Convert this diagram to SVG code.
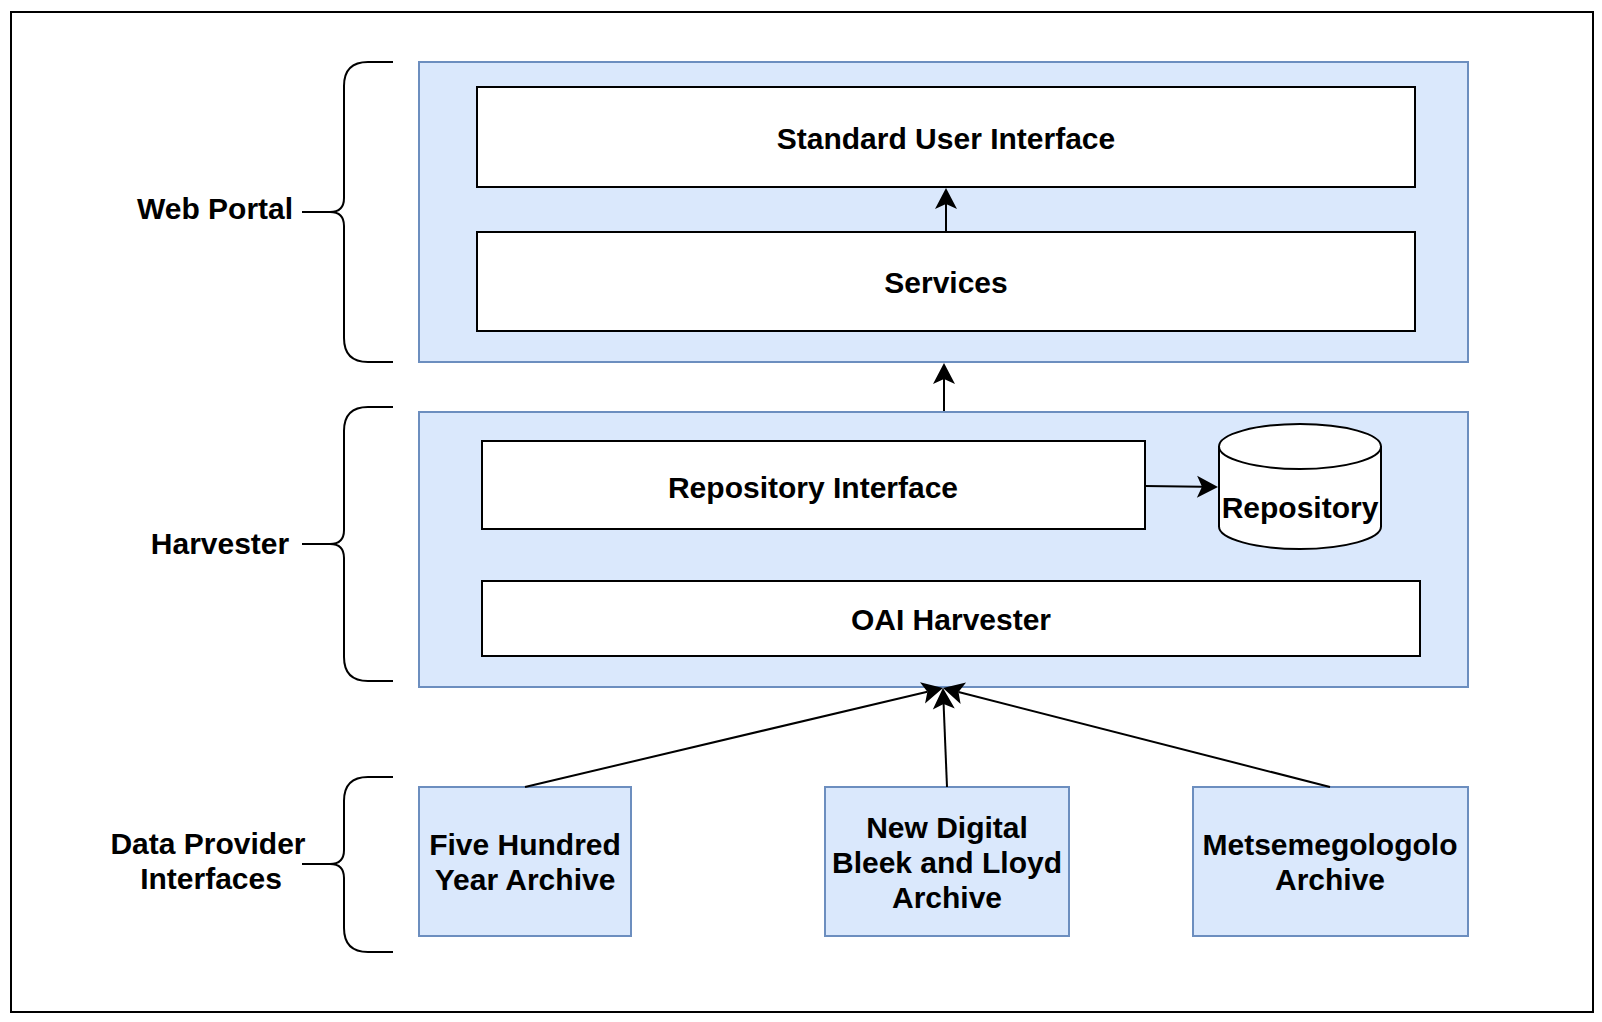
<svg xmlns="http://www.w3.org/2000/svg" width="1602" height="1022" viewBox="0 0 1602 1022">
<style>
.frame{fill:#fff;stroke:#000;stroke-width:2}
.blue{fill:#dae8fc;stroke:#6c8ebf;stroke-width:2}
.white{fill:#fff;stroke:#000;stroke-width:2}
.brace{fill:none;stroke:#000;stroke-width:2}
.edge{fill:none;stroke:#000;stroke-width:2}
text{font-family:"Liberation Sans",Arial,Helvetica,sans-serif;font-weight:bold;font-size:30px;fill:#000;text-anchor:middle}
</style>
<defs>
<marker id="arr" markerUnits="userSpaceOnUse" markerWidth="24" markerHeight="24" refX="5" refY="11" orient="auto" overflow="visible">
<path d="M0,0 L21,11 L0,22 L5,11 Z" fill="#000"/>
</marker>
</defs>
<rect class="frame" x="11" y="12" width="1582" height="1000"/>

<g id="brace-web-portal">
<path class="brace" d="M393,62 H368 Q344,62 344,86 V198 Q344,212 330,212 H302 M330,212 Q344,212 344,226 V338 Q344,362 368,362 H393"/>
<text x="215" y="219">Web Portal</text>
</g>
<g id="brace-harvester">
<path class="brace" d="M393,407 H368 Q344,407 344,431 V530 Q344,544 330,544 H302 M330,544 Q344,544 344,558 V657 Q344,681 368,681 H393"/>
<text x="220" y="554">Harvester</text>
</g>
<g id="brace-data-provider">
<path class="brace" d="M393,777 H368 Q344,777 344,801 V850 Q344,864 330,864 H302 M330,864 Q344,864 344,878 V928 Q344,952 368,952 H393"/>
<text x="208" y="854">Data Provider</text>
<text x="211" y="889">Interfaces</text>
</g>

<g id="web-portal">
<rect class="blue" x="419" y="62" width="1049" height="300"/>
</g>
<g id="standard-user-interface">
<rect class="white" x="477" y="87" width="938" height="100"/>
<text x="946" y="149">Standard User Interface</text>
</g>
<g id="services">
<rect class="white" x="477" y="232" width="938" height="99"/>
<text x="946" y="293">Services</text>
</g>

<g id="harvester">
<rect class="blue" x="419" y="412" width="1049" height="275"/>
</g>
<g id="repository-interface">
<rect class="white" x="482" y="441" width="663" height="88"/>
<text x="813" y="498">Repository Interface</text>
</g>
<g id="repository">
<path class="white" d="M1219,446.5 A81,22.5 0 0 1 1381,446.5 V526.5 A81,22.5 0 0 1 1219,526.5 Z"/>
<path class="brace" d="M1219,446.5 A81,22.5 0 0 0 1381,446.5"/>
<text x="1300" y="518">Repository</text>
</g>
<g id="oai-harvester">
<rect class="white" x="482" y="581" width="938" height="75"/>
<text x="951" y="630">OAI Harvester</text>
</g>

<g id="five-hundred-year-archive">
<rect class="blue" x="419" y="787" width="212" height="149"/>
<text x="525" y="855">Five Hundred</text>
<text x="525" y="890">Year Archive</text>
</g>
<g id="new-digital-bleek-lloyd">
<rect class="blue" x="825" y="787" width="244" height="149"/>
<text x="947" y="838">New Digital</text>
<text x="947" y="873">Bleek and Lloyd</text>
<text x="947" y="908">Archive</text>
</g>
<g id="metsemegologolo-archive">
<rect class="blue" x="1193" y="787" width="275" height="149"/>
<text x="1330" y="855">Metsemegologolo</text>
<text x="1330" y="890">Archive</text>
</g>

<g id="connectors">
<line class="edge" x1="946" y1="232" x2="946" y2="204" marker-end="url(#arr)"/>
<line class="edge" x1="944" y1="411" x2="944" y2="379" marker-end="url(#arr)"/>
<line class="edge" x1="1145" y1="486" x2="1202" y2="486.7" marker-end="url(#arr)"/>
<line class="edge" x1="525" y1="787" x2="927.4" y2="691.7" marker-end="url(#arr)"/>
<line class="edge" x1="947" y1="787" x2="943.6" y2="704" marker-end="url(#arr)"/>
<line class="edge" x1="1330" y1="787" x2="958.5" y2="692" marker-end="url(#arr)"/>
</g>
</svg>
